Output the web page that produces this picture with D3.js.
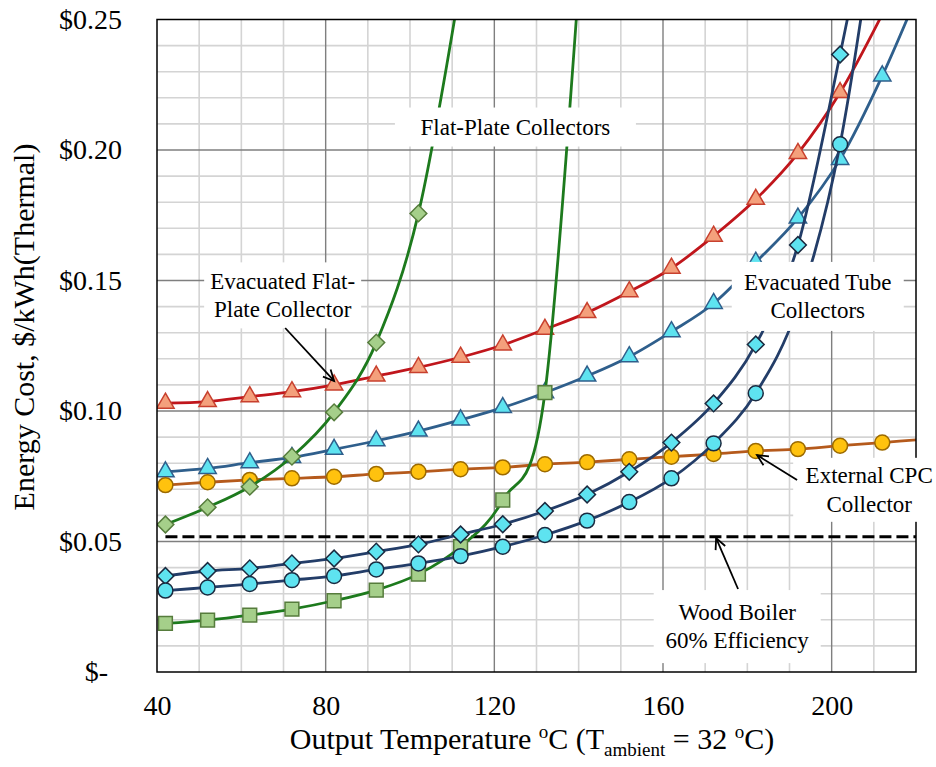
<!DOCTYPE html>
<html>
<head>
<meta charset="utf-8">
<script src="https://cdn.jsdelivr.net/npm/d3@7"></script>
<style>
body { margin: 0; background: #fff; }
text { font-family: "Liberation Serif", "Times New Roman", serif; fill: #000; white-space: pre; }
</style>
</head>
<body>
<div id="chart"></div>
<script>
/*------------------- Data -------------------*/

// output temperature (deg C) of every data point, series use the first n values
var temps = [42, 52, 62, 72, 82, 92, 102, 112, 122, 132, 142, 152, 162, 172, 182, 192, 202, 212, 222];

// energy cost, $/kWh (last value of some series lies above the plot and is clipped)
var evacFlatPlate = [0.1030, 0.1036, 0.1055, 0.1074, 0.1100, 0.1134, 0.1167, 0.1206, 0.1253, 0.1313,
                     0.1377, 0.1457, 0.1547, 0.1670, 0.1811, 0.1987, 0.2220, 0.2520];
var evacTubeA = [0.0767, 0.0780, 0.0802, 0.0822, 0.0853, 0.0886, 0.0923, 0.0966, 0.1013, 0.1070,
                 0.1134, 0.1208, 0.1304, 0.1412, 0.1570, 0.1739, 0.1964, 0.2284, 0.2660];
var externalCPC = [0.0716, 0.0727, 0.0736, 0.0742, 0.0748, 0.0759, 0.0767, 0.0777, 0.0784, 0.0796,
                   0.0804, 0.0815, 0.0825, 0.0835, 0.0847, 0.0854, 0.0867, 0.0879, 0.0892];
var flatPlateA = [0.0565, 0.0631, 0.0710, 0.0825, 0.0995, 0.1262, 0.1757, 0.2640];
var flatPlateB = [0.0186, 0.0199, 0.0218, 0.0241, 0.0273, 0.0314, 0.0375, 0.0480, 0.0659, 0.1070, 0.3100];
var evacTubeB = [0.0368, 0.0387, 0.0397, 0.0416, 0.0435, 0.0461, 0.0489, 0.0527, 0.0566, 0.0617,
                 0.0680, 0.0767, 0.0879, 0.1029, 0.1255, 0.1636, 0.2366, 0.3180];
var evacTubeC = [0.0312, 0.0324, 0.0337, 0.0352, 0.0368, 0.0393, 0.0416, 0.0444, 0.0480, 0.0525,
                 0.0580, 0.0651, 0.0742, 0.0876, 0.1068, 0.1400, 0.2022, 0.3070];

// wood boiler reference cost and its temperature span
var woodBoilerCost = 0.0518;
var woodBoilerSpan = [42, 220];

var xTicks = [40, 80, 120, 160, 200];
var yTicks = [0, 0.05, 0.10, 0.15, 0.20, 0.25];

// annotations: text centre in data units
var labels = [
    {lines: ["Flat-Plate Collectors"], t: 125.0, v: 0.2088, w: 241, h: 39},
    {lines: ["Evacuated Flat-", "Plate Collector"], t: 69.8, v: 0.1443, w: 157, h: 66},
    {lines: ["Evacuated Tube", "Collectors"], t: 196.7, v: 0.1439, w: 172, h: 69},
    {lines: ["External CPC", "Collector"], t: 208.9, v: 0.0698, w: 152, h: 64},
    {lines: ["Wood Boiler", "60% Efficiency"], t: 177.6, v: 0.0174, w: 167, h: 73}
];
var arrows = [
    {from: [70.4, 0.1318], to: [82.0, 0.1115]},
    {from: [191.8, 0.0736], to: [182.3, 0.0831]},
    {from: [177.8, 0.0318], to: [172.6, 0.0513]}
];

/*------------------- Drawing -------------------*/

var width = 936, height = 767;
var pL = 157, pR = 916, pT = 19.5, pB = 672;

var x = d3.scaleLinear().domain([40, 220]).range([pL, pR]);
var y = d3.scaleLinear().domain([0, 0.25]).range([pB, pT]);

var svg = d3.select("#chart").append("svg")
    .attr("width", width)
    .attr("height", height);

svg.append("rect").attr("width", width).attr("height", height).attr("fill", "#fff");

svg.append("defs").append("clipPath").attr("id", "plot")
    .append("rect")
    .attr("x", pL).attr("y", pT)
    .attr("width", pR - pL).attr("height", pB - pT);

// grid
var grid = svg.append("g");
var xMinor = d3.range(50, 220, 10).filter(d => d % 40 !== 0);
var yMinor = d3.range(1, 25).filter(i => i % 5 !== 0).map(i => i / 100);

grid.selectAll(".xminor").data(xMinor).enter().append("line")
    .attr("x1", d => x(d)).attr("x2", d => x(d))
    .attr("y1", pT).attr("y2", pB)
    .attr("stroke", "#d4d4d4").attr("stroke-width", 1.6);
grid.selectAll(".yminor").data(yMinor).enter().append("line")
    .attr("x1", pL).attr("x2", pR)
    .attr("y1", d => y(d)).attr("y2", d => y(d))
    .attr("stroke", "#d4d4d4").attr("stroke-width", 1.6);
grid.selectAll(".xmajor").data(xTicks.slice(1)).enter().append("line")
    .attr("x1", d => x(d)).attr("x2", d => x(d))
    .attr("y1", pT).attr("y2", pB)
    .attr("stroke", "#7f7f7f").attr("stroke-width", 1.4);
grid.selectAll(".ymajor").data(yTicks.slice(1, -1)).enter().append("line")
    .attr("x1", pL).attr("x2", pR)
    .attr("y1", d => y(d)).attr("y2", d => y(d))
    .attr("stroke", "#7f7f7f").attr("stroke-width", 1.4);

// axes
var xAxis = svg.append("g")
    .attr("transform", "translate(0," + pB + ")")
    .call(d3.axisBottom(x).tickValues(xTicks).tickSize(0).tickPadding(23));
var yAxis = svg.append("g")
    .attr("transform", "translate(" + pL + ",0)")
    .call(d3.axisLeft(y).tickValues(yTicks).tickSize(0).tickPadding(35)
        .tickFormat(d => d === 0 ? "$-" : d3.format("$.2f")(d)));
[xAxis, yAxis].forEach(function(a) {
    a.select(".domain").remove();
    a.selectAll("text").attr("font-size", 28).attr("font-family", "Liberation Serif").attr("fill", "#000");
});
yAxis.selectAll(".tick text").filter(d => d === 0).attr("dx", -14);

// plot content
var plot = svg.append("g").attr("clip-path", "url(#plot)");
var line = d3.line()
    .x(d => x(d[0]))
    .y(d => y(d[1]))
    .curve(d3.curveCardinal.tension(0));

plot.append("line")
    .attr("x1", x(woodBoilerSpan[0])).attr("x2", x(woodBoilerSpan[1]))
    .attr("y1", y(woodBoilerCost)).attr("y2", y(woodBoilerCost))
    .attr("stroke", "#000").attr("stroke-width", 3)
    .attr("stroke-dasharray", "12,5");

function drawSeries(vals, opt) {
    var pts = vals.map((v, i) => [temps[i], v]);
    plot.append("path")
        .datum(pts)
        .attr("d", line)
        .attr("fill", "none")
        .attr("stroke", opt.line)
        .attr("stroke-width", 2.8);
    plot.append("g").selectAll("path")
        .data(pts)
        .enter()
        .append("path")
        .attr("transform", d => "translate(" + x(d[0]) + "," + y(d[1]) + ")" + (opt.rotate ? " rotate(45)" : ""))
        .attr("d", d3.symbol().type(opt.symbol).size(opt.size))
        .attr("fill", opt.fill)
        .attr("stroke", opt.stroke)
        .attr("stroke-width", 1.5);
}

drawSeries(evacFlatPlate, {line: "#c0161c", fill: "#f4a07c", stroke: "#c8402e", symbol: d3.symbolTriangle, size: 130});
drawSeries(evacTubeA, {line: "#2f5f8c", fill: "#5ee3f0", stroke: "#2f5f8c", symbol: d3.symbolTriangle, size: 130});
drawSeries(externalCPC, {line: "#b55a1c", fill: "#ffc20e", stroke: "#9c6a00", symbol: d3.symbolCircle, size: 175});
drawSeries(flatPlateB, {line: "#1d7a1d", fill: "#a5cf8a", stroke: "#567c3c", symbol: d3.symbolSquare, size: 190});
drawSeries(flatPlateA, {line: "#1d7a1d", fill: "#a5cf8a", stroke: "#567c3c", symbol: d3.symbolSquare, size: 140, rotate: true});
drawSeries(evacTubeB, {line: "#233d68", fill: "#5ee3f0", stroke: "#1a2a40", symbol: d3.symbolSquare, size: 140, rotate: true});
drawSeries(evacTubeC, {line: "#233d68", fill: "#5ee3f0", stroke: "#1a2a40", symbol: d3.symbolCircle, size: 175});

// plot border
svg.append("rect")
    .attr("x", pL).attr("y", pT)
    .attr("width", pR - pL).attr("height", pB - pT)
    .attr("fill", "none").attr("stroke", "#000").attr("stroke-width", 1.5);

// annotation boxes and texts
var lineGap = 28.5;
labels.forEach(function(l) {
    var cx = x(l.t), cy = y(l.v);
    svg.append("rect")
        .attr("x", cx - l.w / 2).attr("y", cy - l.h / 2)
        .attr("width", l.w).attr("height", l.h)
        .attr("fill", "#fff");
    l.lines.forEach(function(s, i) {
        svg.append("text")
            .attr("x", cx)
            .attr("y", cy + (i - (l.lines.length - 1) / 2) * lineGap + 7.6)
            .attr("text-anchor", "middle")
            .attr("font-size", 23)
            .text(s);
    });
});

arrows.forEach(function(a) {
    var x1 = x(a.from[0]), y1 = y(a.from[1]), x2 = x(a.to[0]), y2 = y(a.to[1]);
    var ang = Math.atan2(y2 - y1, x2 - x1), len = 12, spread = 0.45;
    svg.append("line")
        .attr("x1", x1).attr("y1", y1).attr("x2", x2).attr("y2", y2)
        .attr("stroke", "#000").attr("stroke-width", 1.8);
    svg.append("path")
        .attr("d", "M" + (x2 - len * Math.cos(ang - spread)) + "," + (y2 - len * Math.sin(ang - spread)) +
                   "L" + x2 + "," + y2 +
                   "L" + (x2 - len * Math.cos(ang + spread)) + "," + (y2 - len * Math.sin(ang + spread)))
        .attr("fill", "none").attr("stroke", "#000").attr("stroke-width", 1.8);
});

// axis titles
var xt = svg.append("text")
    .attr("x", 532).attr("y", 749)
    .attr("text-anchor", "middle")
    .attr("font-size", 30);
xt.append("tspan").text("Output Temperature ");
xt.append("tspan").attr("font-size", 19).attr("dy", -11).text("o");
xt.append("tspan").attr("dy", 11).text("C (T");
xt.append("tspan").attr("font-size", 19).attr("dy", 7).text("ambient");
xt.append("tspan").attr("dy", -7).text(" = 32 ");
xt.append("tspan").attr("font-size", 19).attr("dy", -11).text("o");
xt.append("tspan").attr("dy", 11).text("C)");

svg.append("text")
    .attr("transform", "translate(34,327) rotate(-90)")
    .attr("text-anchor", "middle")
    .attr("font-size", 30)
    .text("Energy Cost, $/kWh(Thermal)");
</script>
</body>
</html>
